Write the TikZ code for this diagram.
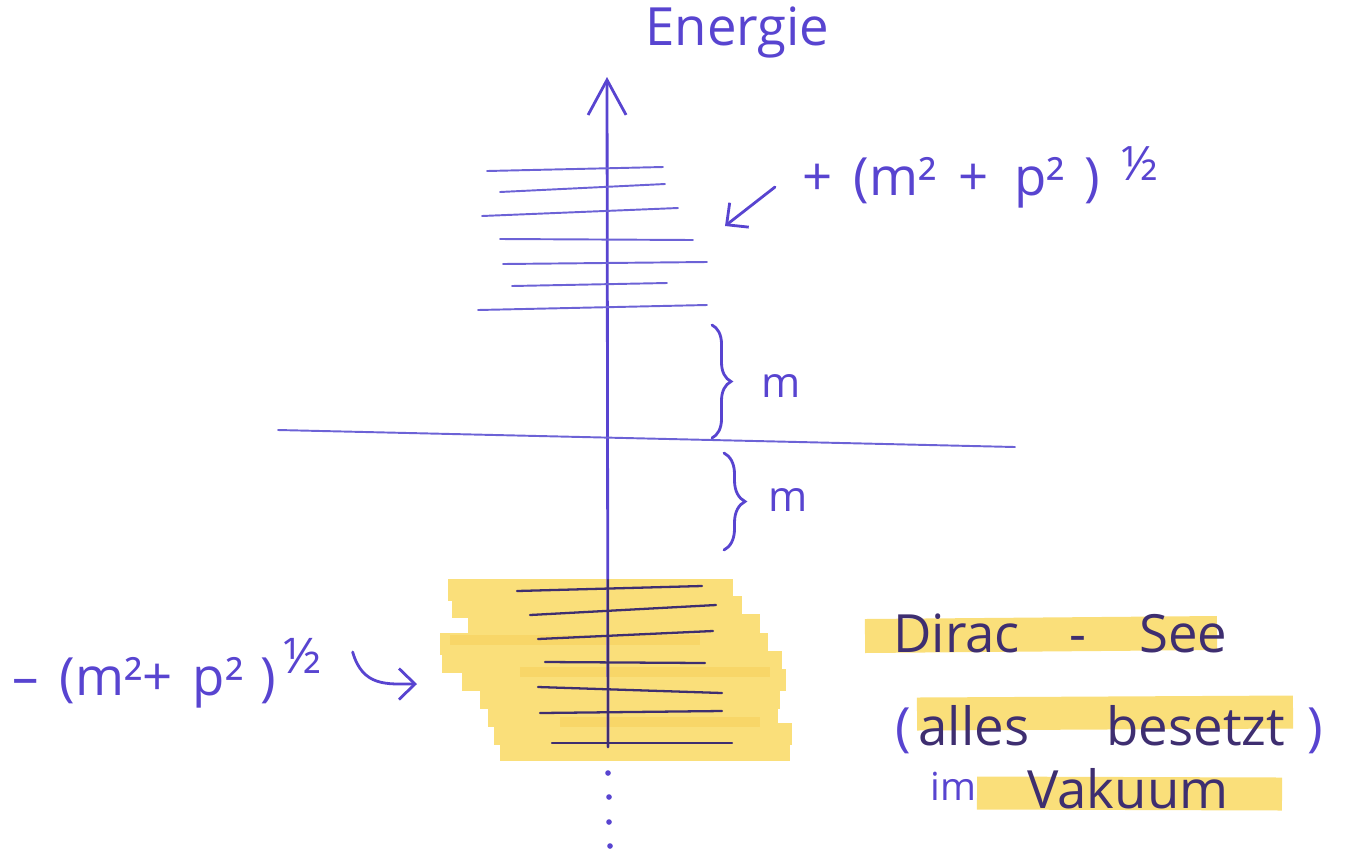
\documentclass[tikz,border=0pt]{standalone}
\usepackage{fontspec}
\setmainfont{Open Sans}
\usepackage{xcolor}
\usetikzlibrary{arrows.meta,decorations.pathreplacing}
\definecolor{ink}{RGB}{88,68,208}
\definecolor{inkthin}{RGB}{108,98,214}
\definecolor{inkdark}{RGB}{62,46,112}
\definecolor{marker}{RGB}{250,223,122}
\definecolor{markerdeep}{RGB}{248,214,104}

\begin{document}
\begin{tikzpicture}[x=0.02cm, y=-0.02cm, >={Straight Barb[length=3.2mm,width=6.2mm]},
  pen/.style={ink, line width=1.6pt, line cap=round},
  level/.style={inkthin, line width=1.1pt, line cap=round},
  sealevel/.style={inkdark, line width=1.3pt, line cap=round},
  hilite/.style={marker, line width=#1},
  hilite/.default=0.44cm,
  lbl/.style={ink, inner sep=0pt, font=\fontsize{30}{32}\selectfont}]
  \useasboundingbox (0,0) rectangle (1351,849);

  \foreach \ya/\xa/\xb in {590/448/733, 607/452/742, 625/468/760, 644/440/768, 662/442/782,
                           680/462/786, 698/480/780, 716/488/778, 734/494/792, 750/500/790}
    \draw[hilite] (\xa,\ya) -- (\xb,\ya);
  \foreach \ya/\xa/\xb in {640/450/700, 672/520/770, 722/560/760}
    \draw[markerdeep, line width=0.2cm] (\xa,\ya) -- (\xb,\ya);
  \draw[hilite=0.68cm] (865,636) -- (1217,633);
  \draw[hilite=0.66cm] (917,714) -- (1293,712);
  \draw[hilite=0.66cm] (977,793) -- (1282,794);

  \coordinate (axisbot) at (608,747);
  \coordinate (axistop) at (607,77);
  \draw[pen, -{Straight Barb[length=7mm,width=7.6mm]}] (axisbot) -- (axistop);
  \draw[sealevel] (608,580) -- (axisbot);
  \foreach \xx/\yy in {608/773, 609/797, 609/822, 610/846}
    \fill[ink] (\xx,\yy) circle (1.6pt);

  \foreach \xa/\ya/\xb/\yb in {487/171/663/167, 500/192/665/184, 482/216/678/208, 500/239/693/240,
                               503/264/707/262, 512/286/667/283, 478/310/707/305}
    \draw[level] (\xa,\ya) -- (\xb,\yb);
  \draw[level] (278,430) -- (1015,447);
  \foreach \xa/\ya/\xb/\yb in {517/591/702/586, 530/615/716/605, 538/639/713/631, 545/662/705/663,
                               538/687/722/693, 540/713/722/711, 552/743/732/743}
    \draw[sealevel] (\xa,\ya) -- (\xb,\yb);

  \draw[pen, decorate, decoration={brace, amplitude=0.38cm}] (712,325) -- (712,438);
  \draw[pen, decorate, decoration={brace, amplitude=0.42cm}] (724,453) -- (724,550);
  \node[lbl, font=\fontsize{24}{26}\selectfont] (gapup) at (781,386) {m};
  \node[lbl, font=\fontsize{24}{26}\selectfont] (gapdown) at (788,500) {m};

  \node[lbl, anchor=base west] (energie) at (645,45) {Energie};

  \node[lbl, anchor=base west] (posen) at (802,195)
    {+\hspace{0.42cm}(m²\hspace{0.45cm}+\hspace{0.5cm}p²\hspace{0.4cm})\hspace{0.42cm}\raisebox{0.3cm}{\fontsize{27}{28}\selectfont ½}};
  \coordinate (upperset) at (725,226);
  \draw[pen, ->] ([xshift=-0.54cm, yshift=0.16cm]posen.base west) -- (upperset);

  \node[lbl, anchor=base west] (negen) at (12,695)
    {–\hspace{0.42cm}(m²+\hspace{0.4cm}p²\hspace{0.35cm})\hspace{0.15cm}\raisebox{0.44cm}{\fontsize{28}{30}\selectfont ½}};
  \coordinate (lowerset) at (417,684);
  \draw[pen, ->] ([xshift=0.6cm, yshift=0.86cm]negen.base east) .. controls +(0.2cm,-0.7cm) and +(-0.6cm,0cm) .. (lowerset);

  \node[lbl, text=inkdark, anchor=base west] (dirac) at (893,652)
    {Dirac\hspace{1cm}-\hspace{1.05cm}See};
  \node[lbl, text=inkdark, anchor=base west] (besetzt) at (895,745)
    {\textcolor{ink}{(}\hspace{0.15cm}alles\hspace{1.55cm}besetzt\hspace{0.45cm}\textcolor{ink}{)}};
  \node[lbl, font=\fontsize{22}{24}\selectfont, anchor=base west] (imword) at (930,800) {im};
  \node[lbl, text=inkdark, anchor=base west] (vakuum) at (1027,808) {Vakuum};
\end{tikzpicture}
\end{document}
